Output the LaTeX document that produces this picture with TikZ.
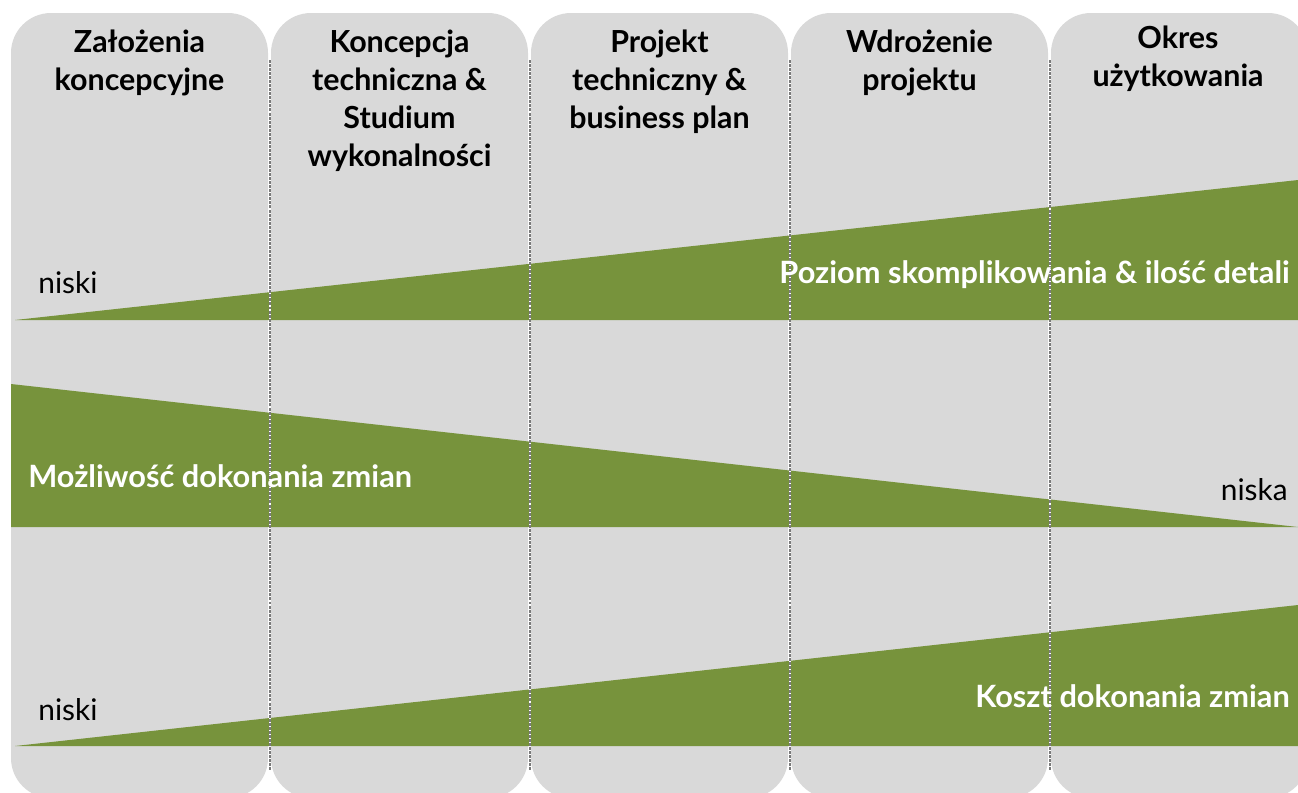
\documentclass[tikz,border=0pt]{standalone}
\usepackage{fontspec}
\setmainfont{Lato}
\definecolor{szary}{HTML}{D9D9D9}
\definecolor{zielony}{HTML}{77933C}
\definecolor{kropka}{HTML}{7A7A7A}
\tikzset{
  faza/.style={font=\fontsize{17.3}{21.5}\selectfont\bfseries, align=center, anchor=base, inner sep=0pt},
  opis/.style={font=\fontsize{17}{21.5}\selectfont, inner sep=0pt},
  napis/.style={font=\fontsize{17.5}{21.5}\selectfont\bfseries, text=white, inner sep=0pt},
}
\begin{document}
\begin{tikzpicture}[x=0.02cm, y=-0.02cm, line join=round]
  \def\szer{257} \def\krok{260} % szerokość i rozstaw kolumn
  \def\gora{13} \def\dol{798}
  \useasboundingbox (0,0) rectangle (1298,792);
  \begin{scope}
    \clip (0,0) rectangle (1298,792);
    \foreach \i in {0,...,4}
      \fill[szary, rounded corners=0.8cm] ({11+\i*\krok},\gora) rectangle ({11+\i*\krok+\szer},\dol);
    % trójkąty
    \fill[zielony] (15,320) -- (1298,180) -- (1298,320) -- cycle;
    \fill[zielony] (11,384) -- (1298,527) -- (11,527) -- cycle;
    \fill[zielony] (15,746) -- (1298,605) -- (1298,746) -- cycle;
    % kropkowane granice faz
    \foreach \i in {1,...,4} {
      \draw[white, line width=1.4pt] ({10+\i*\krok},60) -- ({10+\i*\krok},770);
      \draw[kropka, line width=1.4pt, dash pattern=on 1.7pt off 0.6pt] ({10+\i*\krok},60) -- ({10+\i*\krok},770);
    }
  \end{scope}
  % nagłówki (kotwica na ostatniej linii)
  \node[faza] (f1) at (139.5,90) {Założenia\\koncepcyjne};
  \node[faza] (f2) at (399.5,166) {Koncepcja\\techniczna \&\\Studium\\wykonalności};
  \node[faza] (f3) at (659.5,128) {Projekt\\techniczny \&\\business plan};
  \node[faza] (f4) at (919.5,90) {Wdrożenie\\projektu};
  \node[faza] (f5) at (1178,86) {Okres\\użytkowania};
  % opisy
  \node[opis, anchor=base west] (niski1) at (38,293) {niski};
  \node[napis, anchor=base east] (poziom) at (1290,283) {Poziom skomplikowania \& ilość detali};
  \node[napis, anchor=base west] (mozliwosc) at (28,487) {Możliwość dokonania zmian};
  \node[opis, anchor=base east] (niska) at (1288,500) {niska};
  \node[opis, anchor=base west] (niski2) at (38,720) {niski};
  \node[napis, anchor=base east] (koszt) at (1290,707) {Koszt dokonania zmian};
\end{tikzpicture}
\end{document}
